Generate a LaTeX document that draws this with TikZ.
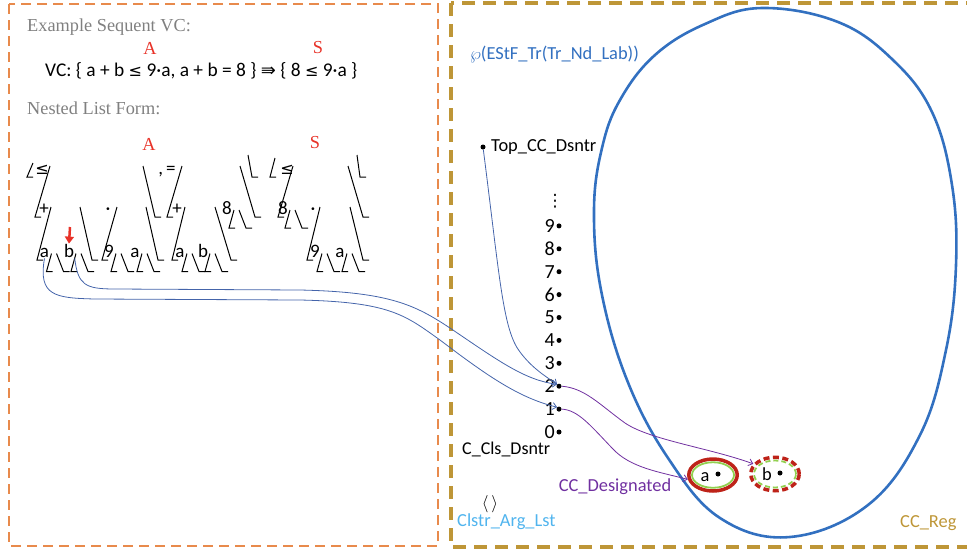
\documentclass[tikz,border=0pt]{standalone}
\usepackage{fontspec}
\setmainfont{Liberation Serif}
\setsansfont{Carlito}
\newfontfamily\symfont{DejaVu Sans}
\usetikzlibrary{arrows.meta,shapes.geometric}

\definecolor{boxorange}{RGB}{232,138,76}
\definecolor{boxgold}{RGB}{190,150,55}
\definecolor{regblue}{RGB}{50,112,192}
\definecolor{linkblue}{RGB}{68,100,170}
\definecolor{desigpurple}{RGB}{112,48,160}
\definecolor{argblue}{RGB}{80,180,238}
\definecolor{ringred}{RGB}{190,35,25}
\definecolor{ringgreen}{RGB}{146,208,80}
\definecolor{markred}{RGB}{232,50,40}

\newcommand{\treefont}{\sffamily\fontsize{19}{22}\selectfont}
\newcommand{\notefont}{\sffamily\fontsize{18.4}{22}\selectfont}
\newcommand{\numfont}{\sffamily\fontsize{20}{22}\selectfont}
\newcommand{\headfont}{\rmfamily\fontsize{18.3}{22}\selectfont}
\newcommand{\lesym}{{\symfont\fontsize{16}{18}\selectfont ≤}}

\tikzset{
    brk/.style={line width=1},
    lab/.style={font=\treefont, inner sep=0.5pt, anchor=base},
    note/.style={font=\notefont, inner sep=0pt},
    dot/.style={circle, fill, inner sep=0pt, minimum size=5pt},
    link/.style={linkblue, line width=0.8, -{Straight Barb[length=4pt,width=7pt]}},
    desig/.style={desigpurple, line width=0.8, -{Straight Barb[length=4pt,width=7pt]}},
}

% a leaf: its label followed by an empty list
\newcommand{\drawleaf}[4]{
    \node[lab] (#3) at (#1,#2) {#4};
    \draw[brk] (#1+7,#2-4) -- (#1+2,#2+14) -- ++(6,0);
    \draw[brk] (#1+12,#2-4) -- (#1+19,#2+14) -- ++(6,0);
}
% opening and closing edge of a list
\newcommand{\drawopen}[4]{\draw[brk] (#1,#2) -- (#3,#4) -- ++(6,0);}
\newcommand{\drawclose}[4]{\draw[brk] (#1,#2) -- (#3,#4) -- ++(6,0);}

\begin{document}
\begin{tikzpicture}[x=1pt,y=-1pt]
    \useasboundingbox (0,0) rectangle (967,550);

    % Panels
    \draw[boxorange, line width=2, dash pattern=on 10pt off 6pt] (9,4) rectangle (438,546);
    \draw[boxgold, line width=4, dash pattern=on 13pt off 8pt] (451,3) rectangle (990,547);

    % Sequent
    \node[font=\headfont, text=gray, anchor=west, inner sep=0pt] (title) at (27,27) {Example Sequent VC:};
    \node[font=\headfont, text=markred] (antA) at (150,48) {A};
    \node[font=\headfont, text=markred] (sucS) at (318,48) {S};
    \node[font=\sffamily\fontsize{19.4}{22}\selectfont, anchor=west, inner sep=0pt] (vc) at (45,71)
        {VC: \{ a + b \lesym{} 9·a, a + b = 8 \} {\symfont\fontsize{18}{20}\selectfont ⇛} \{ 8 \lesym{} 9·a \}};
    \node[font=\headfont, text=gray, anchor=west, inner sep=0pt] (nested) at (27,108) {Nested List Form:};
    \node[font=\headfont, text=markred] (treeA) at (149,144) {A};
    \node[font=\headfont, text=markred] (treeS) at (315,143) {S};

    % Antecedent
    \drawopen{33}{163}{27}{177}
    \node[lab] (le1) at (42,174) {\lesym};
    \drawopen{50}{166}{35}{217}
    \node[lab] (pl1) at (44,214) {+};
    \drawopen{51}{207}{37}{260}
    \drawleaf{44.5}{257.5}{la1}{a}
    \drawleaf{69}{257.5}{lb1}{b}
    \drawclose{80}{207}{92}{260}
    \node[lab] (tm1) at (108,214) {·};
    \drawopen{117}{207}{102}{260}
    \drawleaf{109}{257.5}{l91}{9}
    \drawleaf{135}{257.5}{la2}{a}
    \drawclose{146}{207}{158}{260}
    \drawclose{143}{166}{155}{217}
    \node[lab] (eq1) at (167,174) {,\,=};
    \drawopen{182}{166}{167}{217}
    \node[lab] (pl2) at (177,214) {+};
    \drawopen{185}{207}{172}{260}
    \drawleaf{180}{257.5}{la3}{a}
    \drawleaf{203}{257.5}{lb2}{b}
    \drawclose{215}{207}{231}{260}
    \drawleaf{227}{214}{l81}{8}
    \drawclose{240}{166}{255}{217}
    \drawclose{248}{155}{252}{177}

    % Succedent
    \drawopen{275}{158}{270}{177}
    \node[lab] (le2) at (287,174) {\lesym};
    \drawopen{293}{166}{278}{217}
    \drawleaf{283}{214}{l82}{8}
    \node[lab] (tm2) at (313,214) {·};
    \drawopen{320}{207}{307}{260}
    \drawleaf{315}{257.5}{l92}{9}
    \drawleaf{340}{257.5}{la4}{a}
    \drawclose{350}{207}{363}{260}
    \drawclose{348}{166}{363}{217}
    \drawclose{357}{155}{360}{177}

    % Marker on b
    \coordinate (mark) at (70,227);
    \draw[markred, line width=2.5, -{Triangle[length=7pt,width=9pt]}] (mark) -- (lb1.north);

    % Region
    \draw[regblue, line width=2.6] plot[smooth cycle, tension=0.65] coordinates {(762,8) (838,22) (893,60) (932,112) (952,185) (956,265) (946,350) (920,435) (868,505) (790,537) (720,518) (668,458) (627,380) (601,290) (594,210) (602,148) (620,100) (655,55) (705,24)};
    \node[note, text=regblue, anchor=west] (pset) at (470,54) {$\wp$(EStF\_Tr(Tr\_Nd\_Lab))};
    \node[note, text=boxgold, anchor=west] (reg) at (900,523) {CC\_Reg};

    % Designators
    \node[dot] (top) at (483,147) {};
    \node[note, anchor=west] (topl) at (491,147) {Top\_CC\_Dsntr};
    \node[font=\symfont\fontsize{17}{18}\selectfont, inner sep=0pt] (more) at (555,201) {⋮};
    \foreach \k in {0,...,9} {
        \node[dot] (d\k) at (559,{432-22.9*\k}) {};
        \node[font=\numfont, inner sep=0pt, anchor=east] (n\k) at (555,{432-22.9*\k}) {\k};
    }
    \node[note, font=\sffamily\fontsize{18}{22}\selectfont, anchor=west] (cls) at (462,449) {C\_Cls\_Dsntr};
    \node[note] (args) at (490,504) {$\langle\,\rangle$};
    \node[note, text=argblue, anchor=west] (argl) at (457,522) {Clstr\_Arg\_Lst};
    \node[note, text=desigpurple] (desl) at (615,487) {CC\_Designated};

    % Designated clusters
    \node[ellipse, draw=ringred, line width=3.5, minimum width=48.5pt, minimum height=32pt, inner sep=0pt] (ea) at (713,475) {};
    \node[ellipse, draw=ringgreen, line width=1.8, minimum width=42pt, minimum height=25.5pt, inner sep=0pt] (ga) at (713,475) {};
    \node[lab, font=\notefont] (ta) at (705,481) {a};
    \node[dot] (ca) at (718,474) {};
    \node[ellipse, draw=ringred, line width=3.5, dash pattern=on 6pt off 3.5pt, minimum width=48.5pt, minimum height=33.5pt, inner sep=0pt] (eb) at (775,474) {};
    \node[ellipse, draw=ringgreen, line width=1.8, dash pattern=on 5pt off 3pt, minimum width=42pt, minimum height=27pt, inner sep=0pt] (gb) at (775,474) {};
    \node[lab, font=\notefont] (tb) at (767,480) {b};
    \node[dot] (cb) at (780,473) {};

    % Edges
    \draw[link] (la1.south) .. controls (38,296) and (55,298) .. (95,299) -- (300,300)
        .. controls (390,302) and (405,315) .. (440,340) .. controls (490,378) and (520,398) .. (d1.north west);
    \draw[link] (lb1.south east) .. controls (78,285) and (85,289) .. (115,289) -- (300,290)
        .. controls (390,292) and (415,305) .. (450,328) .. controls (500,362) and (525,380) .. (d2.north west);
    \draw[link] (top) .. controls (500,280) and (503,330) .. (520,352) .. controls (532,368) and (545,376) .. (d2.north west);
    \draw[desig] (d2.east) .. controls (585,388) and (600,405) .. (625,423) .. controls (650,440) and (710,448) .. (eb.155);
    \draw[desig] (d1.east) .. controls (578,410) and (590,425) .. (612,448) .. controls (630,468) and (660,472) .. (ea.190);
\end{tikzpicture}
\end{document}
